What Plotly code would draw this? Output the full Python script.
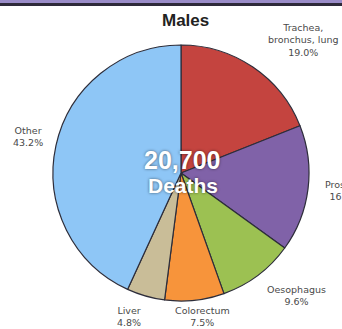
import plotly.graph_objects as go

W, H = 342, 329

sites = ["Trachea, bronchus, lung", "Prostate", "Oesophagus", "Colorectum", "Liver", "Other"]
shares = [19.0, 16.0, 9.6, 7.5, 4.8, 43.2]
label_text = ["Trachea,<br>bronchus, lung<br>19.0%", "Prostate<br>16.0%", "Oesophagus<br>9.6%",
              "Colorectum<br>7.5%", "Liver<br>4.8%", "Other<br>43.2%"]
colors = ["#c4443f", "#8062a8", "#9cc152", "#f7943b", "#c9bd98", "#8ec6f6"]
total_deaths = "20,700"

# pixel centres of the outside labels
label_pos = [(303, 40), (344, 190), (296, 295), (202, 316), (129, 316), (28, 136)]

cx, cy, r = 181, 173, 128

fig = go.Figure(go.Pie(
    labels=sites,
    values=shares,
    sort=False,
    direction="clockwise",
    rotation=0,
    marker=dict(colors=colors, line=dict(color="#2d2d3a", width=1.2)),
    textinfo="none",
    hoverinfo="label+percent",
    domain=dict(x=[(cx - r) / W, (cx + r) / W], y=[1 - (cy + r) / H, 1 - (cy - r) / H]),
    showlegend=False,
))

annotations = []
for txt, (px, py) in zip(label_text, label_pos):
    annotations.append(dict(
        x=px / W, y=1 - py / H, xref="paper", yref="paper",
        xanchor="center", yanchor="middle",
        text=txt, showarrow=False, align="center",
        font=dict(family="DejaVu Sans", size=9.5, color="#4a4a4a"),
    ))

annotations.append(dict(
    x=185 / W, y=1 - 21 / H, xref="paper", yref="paper",
    xanchor="center", yanchor="middle",
    text="<b>Males</b>", showarrow=False,
    font=dict(family="Liberation Sans, Arial", size=17, color="#222222"),
))
annotations.append(dict(
    x=182 / W, y=1 - 160 / H, xref="paper", yref="paper",
    xanchor="center", yanchor="middle",
    text="<b>" + total_deaths + "</b>", showarrow=False,
    font=dict(family="Liberation Sans, Arial", size=25, color="white",
              shadow="0px 0px 3px rgba(0,0,0,0.55)"),
))
annotations.append(dict(
    x=183 / W, y=1 - 185 / H, xref="paper", yref="paper",
    xanchor="center", yanchor="middle",
    text="<b>Deaths</b>", showarrow=False,
    font=dict(family="Liberation Sans, Arial", size=21, color="white",
              shadow="0px 0px 3px rgba(0,0,0,0.55)"),
))

shapes = [
    dict(type="rect", xref="paper", yref="paper", x0=0, x1=1, y0=1 - 3 / H, y1=1,
         fillcolor="#9a8cc8", line=dict(width=0)),
    dict(type="rect", xref="paper", yref="paper", x0=0, x1=1, y0=1 - 6 / H, y1=1 - 3 / H,
         fillcolor="#2e2a3a", line=dict(width=0)),
]

fig.update_layout(
    width=W, height=H,
    margin=dict(l=0, r=0, t=0, b=0),
    paper_bgcolor="white", plot_bgcolor="white",
    annotations=annotations,
    shapes=shapes,
)

fig.write_html("out.html")
